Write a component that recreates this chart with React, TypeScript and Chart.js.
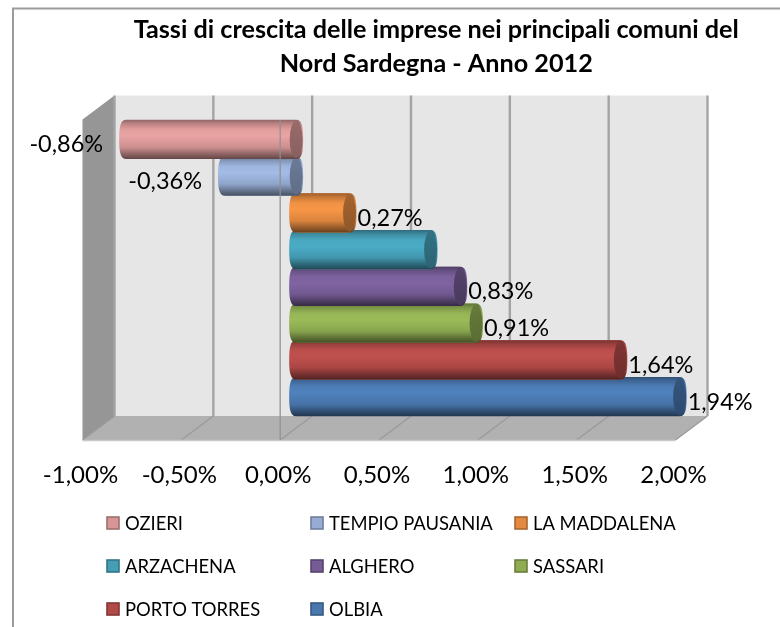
import React, { useEffect, useRef } from "react";
import { Chart, registerables } from "chart.js";

Chart.register(...registerables);

const seriesNames = ["OZIERI", "TEMPIO PAUSANIA", "LA MADDALENA", "ARZACHENA", "ALGHERO", "SASSARI", "PORTO TORRES", "OLBIA"];
const seriesValues = [-0.86, -0.36, 0.27, 0.68, 0.83, 0.91, 1.64, 1.94];
const labelled = [true, true, true, false, true, true, true, true];
const seriesColors = ["#E9A3A3", "#A3BBE6", "#F79646", "#4BACC6", "#8064A2", "#9BBB59", "#C0504D", "#4F81BD"];
const titleLines = ["Tassi di crescita delle imprese nei principali comuni del", "Nord Sardegna - Anno 2012"];
const FONT = "Lato, Carlito, sans-serif";
const DX = 16;
const DY = 24;

function shade(hex: string, f: number) {
  const n = parseInt(hex.slice(1), 16);
  const c = [(n >> 16) & 255, (n >> 8) & 255, n & 255].map((v) => Math.round(v * f));
  return `rgb(${c[0]},${c[1]},${c[2]})`;
}

function pct(v: number) {
  return v.toFixed(2).replace(".", ",") + "%";
}

const scenePlugin = {
  id: "scene",
  beforeDatasetsDraw(chart: any) {
    const { ctx, chartArea: a } = chart;
    const x = chart.scales.x;
    const l = x.getPixelForValue(-1);
    const r = x.getPixelForValue(2);
    const backTop = a.top - DY - 1.5;
    const backBot = a.bottom + 1;
    ctx.save();
    // outer frame
    ctx.strokeStyle = "#9c9c9c";
    ctx.lineWidth = 2;
    ctx.beginPath();
    ctx.moveTo(13, 627);
    ctx.lineTo(13, 8.5);
    ctx.lineTo(780, 8.5);
    ctx.stroke();
    // back wall
    ctx.fillStyle = "#e6e6e6";
    ctx.fillRect(l + DX, backTop, r - l, backBot - backTop);
    // left wall
    ctx.fillStyle = "#969696";
    ctx.beginPath();
    ctx.moveTo(l - DX, backTop + DY);
    ctx.lineTo(l + DX, backTop);
    ctx.lineTo(l + DX, backBot);
    ctx.lineTo(l - DX, backBot + DY);
    ctx.closePath();
    ctx.fill();
    // floor
    ctx.fillStyle = "#b1b1b1";
    ctx.beginPath();
    ctx.moveTo(l - DX, backBot + DY);
    ctx.lineTo(l + DX, backBot);
    ctx.lineTo(r + DX, backBot);
    ctx.lineTo(r - DX, backBot + DY);
    ctx.closePath();
    ctx.fill();
    // grid
    x.ticks.forEach((t: any) => {
      const px = x.getPixelForValue(t.value);
      ctx.strokeStyle = "#a4a4a4";
      ctx.lineWidth = 2.4;
      ctx.beginPath();
      ctx.moveTo(px + DX, backTop);
      ctx.lineTo(px + DX, backBot);
      ctx.stroke();
      ctx.strokeStyle = "#999999";
      ctx.lineWidth = 1.2;
      ctx.beginPath();
      ctx.moveTo(px + DX, backBot);
      ctx.lineTo(px - DX, backBot + DY);
      ctx.stroke();
    });
    // floor front edge
    ctx.strokeStyle = "#c8c8c8";
    ctx.lineWidth = 1.5;
    ctx.beginPath();
    ctx.moveTo(l - DX, backBot + DY + 0.5);
    ctx.lineTo(r - DX, backBot + DY + 0.5);
    ctx.stroke();
    ctx.restore();
  },
  afterDatasetDraw(chart: any, args: any) {
    const { ctx } = chart;
    const i = args.index;
    const base = seriesColors[i];
    const el = chart.getDatasetMeta(i).data[0];
    if (!el) return;
    const top = el.y - el.height / 2;
    const bot = top + el.height;
    const h = el.height;
    const rx = 7;
    const left = Math.min(el.x, el.base);
    const right = Math.max(el.x, el.base);
    const g = ctx.createLinearGradient(0, top, 0, bot);
    g.addColorStop(0, shade(base, 0.62));
    g.addColorStop(0.1, shade(base, 0.8));
    g.addColorStop(0.25, shade(base, 0.97));
    g.addColorStop(0.42, shade(base, 1));
    g.addColorStop(0.7, shade(base, 0.88));
    g.addColorStop(0.88, shade(base, 0.6));
    g.addColorStop(1, shade(base, 0.42));
    ctx.save();
    ctx.fillStyle = g;
    ctx.beginPath();
    ctx.moveTo(left, top);
    ctx.lineTo(right, top);
    ctx.bezierCurveTo(right + rx * 0.85, top, right + rx, top + h * 0.2, right + rx, el.y);
    ctx.bezierCurveTo(right + rx, bot - h * 0.2, right + rx * 0.85, bot, right, bot);
    ctx.lineTo(left, bot);
    ctx.bezierCurveTo(left - rx * 0.85, bot, left - rx, bot - h * 0.2, left - rx, el.y);
    ctx.bezierCurveTo(left - rx, top + h * 0.2, left - rx * 0.85, top, left, top);
    ctx.closePath();
    ctx.fill();
    const c = ctx.createLinearGradient(0, top, 0, bot);
    c.addColorStop(0, shade(base, 0.66));
    c.addColorStop(1, shade(base, 0.58));
    ctx.fillStyle = c;
    ctx.beginPath();
    ctx.ellipse(right, el.y, rx - 0.5, h / 2 - 1, 0, 0, Math.PI * 2);
    ctx.fill();
    ctx.restore();
  },
  afterDatasetsDraw(chart: any) {
    const { ctx, chartArea: a } = chart;
    const x = chart.scales.x;
    const zero = x.getPixelForValue(0);
    ctx.save();
    // zero axis plane
    ctx.strokeStyle = "#8f8f8f";
    ctx.lineWidth = 1.2;
    ctx.beginPath();
    ctx.moveTo(zero - DX, a.top - 1);
    ctx.lineTo(zero - DX, a.bottom + 1 + DY);
    ctx.stroke();
    // value labels
    ctx.fillStyle = "#000";
    ctx.font = `23.5px ${FONT}`;
    ctx.textBaseline = "middle";
    seriesValues.forEach((v, i) => {
      if (!labelled[i]) return;
      const el = chart.getDatasetMeta(i).data[0];
      if (v < 0) {
        ctx.textAlign = "right";
        ctx.fillText(pct(v), el.x - 23, el.y + 5.5);
      } else {
        ctx.textAlign = "left";
        ctx.fillText(pct(v), el.x + 8, el.y + 5.5);
      }
    });
    // legend
    const colX = [107, 311, 515];
    const rowY = [523, 566, 609];
    ctx.font = `18.4px ${FONT}`;
    ctx.textAlign = "left";
    seriesNames.forEach((name, i) => {
      const sx = colX[i % 3];
      const sy = rowY[Math.floor(i / 3)];
      ctx.fillStyle = shade(seriesColors[i], 0.92);
      ctx.strokeStyle = shade(seriesColors[i], 0.68);
      ctx.lineWidth = 1.6;
      ctx.fillRect(sx, sy - 6, 12, 12);
      ctx.strokeRect(sx, sy - 6, 12, 12);
      ctx.fillStyle = "#000";
      ctx.fillText(name, sx + 18, sy + 1);
    });
    ctx.restore();
  },
};

export default function App() {
  const ref = useRef<HTMLCanvasElement>(null);
  useEffect(() => {
    const chart = new Chart(ref.current as HTMLCanvasElement, {
      type: "bar",
      data: {
        labels: ["2012"],
        datasets: seriesNames.map((name, i) => ({
          label: name,
          data: [seriesValues[i]],
          backgroundColor: seriesColors[i],
          categoryPercentage: 1,
          barPercentage: 1.07,
        })),
      },
      plugins: [scenePlugin],
      options: {
        indexAxis: "y",
        animation: false,
        responsive: false,
        layout: { padding: { left: 98.5, right: 6, top: 0, bottom: 0 } },
        plugins: {
          legend: { display: false },
          tooltip: { enabled: false },
          title: {
            display: true,
            text: titleLines,
            color: "#000",
            font: { family: FONT, size: 25.2, weight: "bold", lineHeight: 1.35 },
            padding: { top: 13, bottom: 40 },
          },
        },
        scales: {
          x: {
            min: -1,
            max: 2,
            ticks: {
              stepSize: 0.5,
              color: "#000",
              font: { family: FONT, size: 24 },
              padding: 38,
              labelOffset: -18,
              maxRotation: 0,
              callback: (v: any) => pct(Number(v)),
            },
            grid: { display: false },
            border: { display: false },
            afterFit: (s: any) => {
              s.height = 212;
            },
          },
          y: {
            position: "right",
            ticks: { display: false },
            grid: { display: false },
            border: { display: false },
            afterFit: (s: any) => {
              s.width = 82.5;
            },
          },
        },
      },
    } as any);
    return () => chart.destroy();
  }, []);
  return (
    <div style={{ position: "fixed", left: 0, top: 0, width: 780, height: 627, background: "#fff" }}>
      <canvas ref={ref} width={780} height={627} style={{ display: "block" }} />
    </div>
  );
}
